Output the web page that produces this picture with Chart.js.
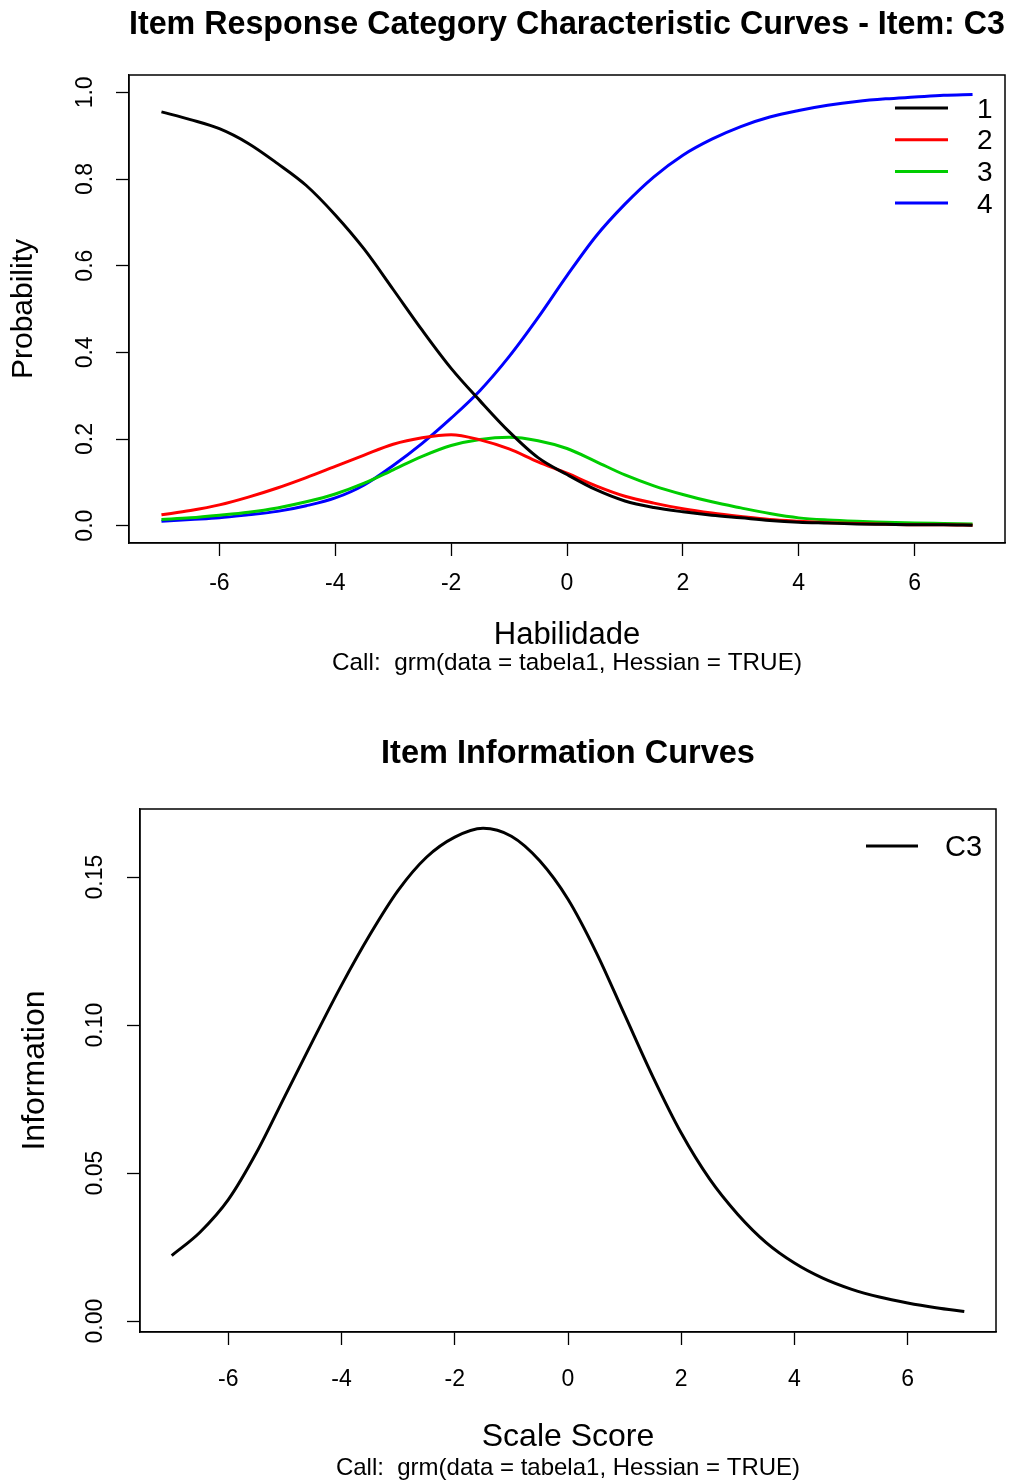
<!DOCTYPE html>
<html>
<head>
<meta charset="utf-8">
<title>grm - Item C3</title>
<script src="https://cdn.jsdelivr.net/npm/chart.js@4.4.1/dist/chart.umd.min.js"></script>
<style>
  html, body { margin: 0; padding: 0; background: #fff; }
  body { width: 1019px; height: 1484px; position: relative; overflow: hidden; }
  canvas { position: absolute; left: 0; }
  #curvasCategoria { top: 0; }
  #curvaInformacao { top: 700px; }
</style>
</head>
<body>
<canvas id="curvasCategoria" width="1019" height="700"></canvas>
<canvas id="curvaInformacao" width="1019" height="784"></canvas>
<script>
// Valores de habilidade (theta) onde as curvas foram tomadas
var habilidade = [-7, -6.5, -6, -5.5, -5, -4.5, -4, -3.5, -3, -2.5, -2, -1.5, -1, -0.5, 0,
                  0.5, 1, 1.5, 2, 2.5, 3, 3.5, 4, 4.5, 5, 5.5, 6, 6.5, 7];

// Probabilidade de cada categoria de resposta do item C3
var categorias = ['1', '2', '3', '4'];
var cat1 = [0.955, 0.937, 0.916, 0.882, 0.836, 0.785, 0.717, 0.638, 0.545, 0.451, 0.363, 0.288, 0.217, 0.157, 0.118,
            0.083, 0.057, 0.042, 0.032, 0.024, 0.018, 0.012, 0.008, 0.006, 0.004, 0.003, 0.002, 0.002, 0.001];
var cat2 = [0.025, 0.035, 0.048, 0.066, 0.087, 0.111, 0.137, 0.163, 0.188, 0.203, 0.210, 0.198, 0.177, 0.147, 0.121,
            0.092, 0.068, 0.052, 0.039, 0.029, 0.021, 0.014, 0.010, 0.007, 0.005, 0.003, 0.002, 0.002, 0.001];
var cat3 = [0.014, 0.018, 0.024, 0.031, 0.041, 0.055, 0.073, 0.098, 0.129, 0.160, 0.185, 0.199, 0.204, 0.196, 0.178,
            0.148, 0.117, 0.092, 0.072, 0.055, 0.041, 0.028, 0.018, 0.013, 0.010, 0.008, 0.006, 0.005, 0.004];
var cat4 = [0.010, 0.014, 0.018, 0.025, 0.033, 0.046, 0.064, 0.094, 0.139, 0.190, 0.248, 0.312, 0.390, 0.480, 0.577,
            0.668, 0.742, 0.805, 0.855, 0.892, 0.921, 0.943, 0.958, 0.970, 0.979, 0.985, 0.989, 0.993, 0.995];

// Informacao do item C3
var itemInfo = 'C3';
var informacao = [0.0221, 0.0300, 0.0410, 0.0570, 0.0760, 0.0950, 0.1135, 0.1305, 0.1455, 0.1567, 0.1635, 0.1665, 0.1638, 0.1555, 0.1425,
                  0.1245, 0.1035, 0.0825, 0.0635, 0.0480, 0.0360, 0.0265, 0.0196, 0.0145, 0.0108, 0.0081, 0.0061, 0.0045, 0.0032];

// Marcas dos eixos
var ticksX = [-6, -4, -2, 0, 2, 4, 6];
var rotulosX = ['-6', '-4', '-2', '0', '2', '4', '6'];
var ticksProb = [0, 0.2, 0.4, 0.6, 0.8, 1.0];
var rotulosProb = ['0.0', '0.2', '0.4', '0.6', '0.8', '1.0'];
var ticksInfo = [0, 0.05, 0.10, 0.15];
var rotulosInfo = ['0.00', '0.05', '0.10', '0.15'];

var FONTE = "'Liberation Sans', Arial, Helvetica, sans-serif";
Chart.defaults.font.family = FONTE;
Chart.defaults.color = '#000';

function pontos(ys) {
    // junta habilidade com os valores de uma curva
    return habilidade.map(function(x, i) { return {x: x, y: ys[i]}; });
}

function serie(rotulo, ys, cor) {
    return {
        label: rotulo,
        data: pontos(ys),
        borderColor: cor,
        backgroundColor: cor,
        borderWidth: 3,
        pointRadius: 0,
        fill: false,
        cubicInterpolationMode: 'monotone'
    };
}

// Caixa em volta da area do grafico, como no plot do R
var caixa = {
    id: 'caixa',
    afterDraw: function(chart) {
        var a = chart.chartArea, ctx = chart.ctx;
        ctx.save();
        ctx.strokeStyle = '#000';
        ctx.lineWidth = 1.5;
        ctx.strokeRect(a.left, a.top, a.right - a.left, a.bottom - a.top);
        ctx.restore();
    }
};

// Legenda dentro da area, canto superior direito
var legendaR = {
    id: 'legendaR',
    afterDatasetsDraw: function(chart, args, opts) {
        var a = chart.chartArea, ctx = chart.ctx;
        ctx.save();
        ctx.font = opts.tamanho + 'px ' + FONTE;
        ctx.textBaseline = 'middle';
        ctx.textAlign = 'left';
        chart.data.datasets.forEach(function(ds, i) {
            var y = a.top + opts.topo + i * opts.passo;
            ctx.strokeStyle = ds.borderColor;
            ctx.lineWidth = ds.borderWidth;
            ctx.beginPath();
            ctx.moveTo(a.right - opts.linhaIni, y);
            ctx.lineTo(a.right - opts.linhaFim, y);
            ctx.stroke();
            ctx.fillStyle = '#000';
            ctx.fillText(ds.label, a.right - opts.texto, y + 2);
        });
        ctx.restore();
    }
};

function eixo(min, max, marcas, rotulos, extra) {
    var cfg = {
        type: 'linear',
        min: min,
        max: max,
        afterBuildTicks: function(s) { s.ticks = marcas.map(function(v) { return {value: v}; }); },
        grid: { drawOnChartArea: false, drawTicks: true, tickLength: 13, tickColor: '#000', tickWidth: 1.3 },
        border: { display: true, color: '#000', width: 1.3 },
        ticks: {
            autoSkip: false,
            color: '#000',
            font: { size: 23 },
            callback: function(v, i) { return rotulos[i]; }
        }
    };
    Object.keys(extra).forEach(function(k) {
        if (typeof extra[k] === 'object' && cfg[k]) Object.assign(cfg[k], extra[k]);
        else cfg[k] = extra[k];
    });
    return cfg;
}

// Curvas caracteristicas das categorias
new Chart(document.getElementById('curvasCategoria'), {
    type: 'line',
    data: {
        datasets: [
            serie(categorias[0], cat1, '#000000'),
            serie(categorias[1], cat2, '#FF0000'),
            serie(categorias[2], cat3, '#00CD00'),
            serie(categorias[3], cat4, '#0000FF')
        ]
    },
    options: {
        responsive: false,
        animation: false,
        layout: { padding: { left: 0, right: 14, top: 0, bottom: 0 } },
        scales: {
            x: eixo(-7.56, 7.56, ticksX, rotulosX, {
                afterFit: function(s) { s.height = 108; },
                ticks: { padding: 14, maxRotation: 0, minRotation: 0 },
                title: { display: true, text: 'Habilidade', color: '#000',
                         font: { size: 31, lineHeight: 1 }, padding: { top: 0, bottom: 0.5 } }
            }),
            y: eixo(-0.04, 1.04, ticksProb, rotulosProb, {
                afterFit: function(s) { s.width = 129; },
                ticks: { padding: 14, minRotation: 90, maxRotation: 90, crossAlign: 'center' },
                title: { display: true, text: 'Probability', color: '#000',
                         font: { size: 30, lineHeight: 1 }, padding: { top: 9, bottom: 0 } }
            })
        },
        plugins: {
            legend: { display: false },
            tooltip: { enabled: false },
            title: {
                display: true, fullSize: false, color: '#000',
                text: 'Item Response Category Characteristic Curves - Item: C3',
                font: { size: 34, weight: 'bold', lineHeight: 1.2 },
                padding: { top: 4, bottom: 30.2 }
            },
            subtitle: {
                display: true, position: 'bottom', fullSize: false, color: '#000',
                text: 'Call:  grm(data = tabela1, Hessian = TRUE)',
                font: { size: 24.3, lineHeight: 1 },
                padding: { top: 0, bottom: 24.7 }
            },
            legendaR: { tamanho: 28, topo: 33, passo: 31.7, linhaIni: 110, linhaFim: 57, texto: 28 }
        }
    },
    plugins: [caixa, legendaR]
});

// Curva de informacao do item
new Chart(document.getElementById('curvaInformacao'), {
    type: 'line',
    data: {
        datasets: [ serie(itemInfo, informacao, '#000000') ]
    },
    options: {
        responsive: false,
        animation: false,
        layout: { padding: { left: 0, right: 23, top: 0, bottom: 0 } },
        scales: {
            x: eixo(-7.56, 7.56, ticksX, rotulosX, {
                afterFit: function(s) { s.height = 124; },
                ticks: { padding: 21, maxRotation: 0, minRotation: 0 },
                title: { display: true, text: 'Scale Score', color: '#000',
                         font: { size: 32, lineHeight: 1 }, padding: { top: 0, bottom: 3 } }
            }),
            y: eixo(-0.0037, 0.173, ticksInfo, rotulosInfo, {
                afterFit: function(s) { s.width = 140; },
                ticks: { padding: 9, minRotation: 90, maxRotation: 90, crossAlign: 'center' },
                title: { display: true, text: 'Information', color: '#000',
                         font: { size: 32, lineHeight: 1 }, padding: { top: 19, bottom: 0 } }
            })
        },
        plugins: {
            legend: { display: false },
            tooltip: { enabled: false },
            title: {
                display: true, fullSize: false, color: '#000',
                text: 'Item Information Curves',
                font: { size: 32.5, weight: 'bold', lineHeight: 1.2 },
                padding: { top: 34.5, bottom: 35.5 }
            },
            subtitle: {
                display: true, position: 'bottom', fullSize: false, color: '#000',
                text: 'Call:  grm(data = tabela1, Hessian = TRUE)',
                font: { size: 24, lineHeight: 1 },
                padding: { top: 0, bottom: 4 }
            },
            legendaR: { tamanho: 29, topo: 37, passo: 0, linhaIni: 130, linhaFim: 78, texto: 51 }
        }
    },
    plugins: [caixa, legendaR]
});
</script>
</body>
</html>
